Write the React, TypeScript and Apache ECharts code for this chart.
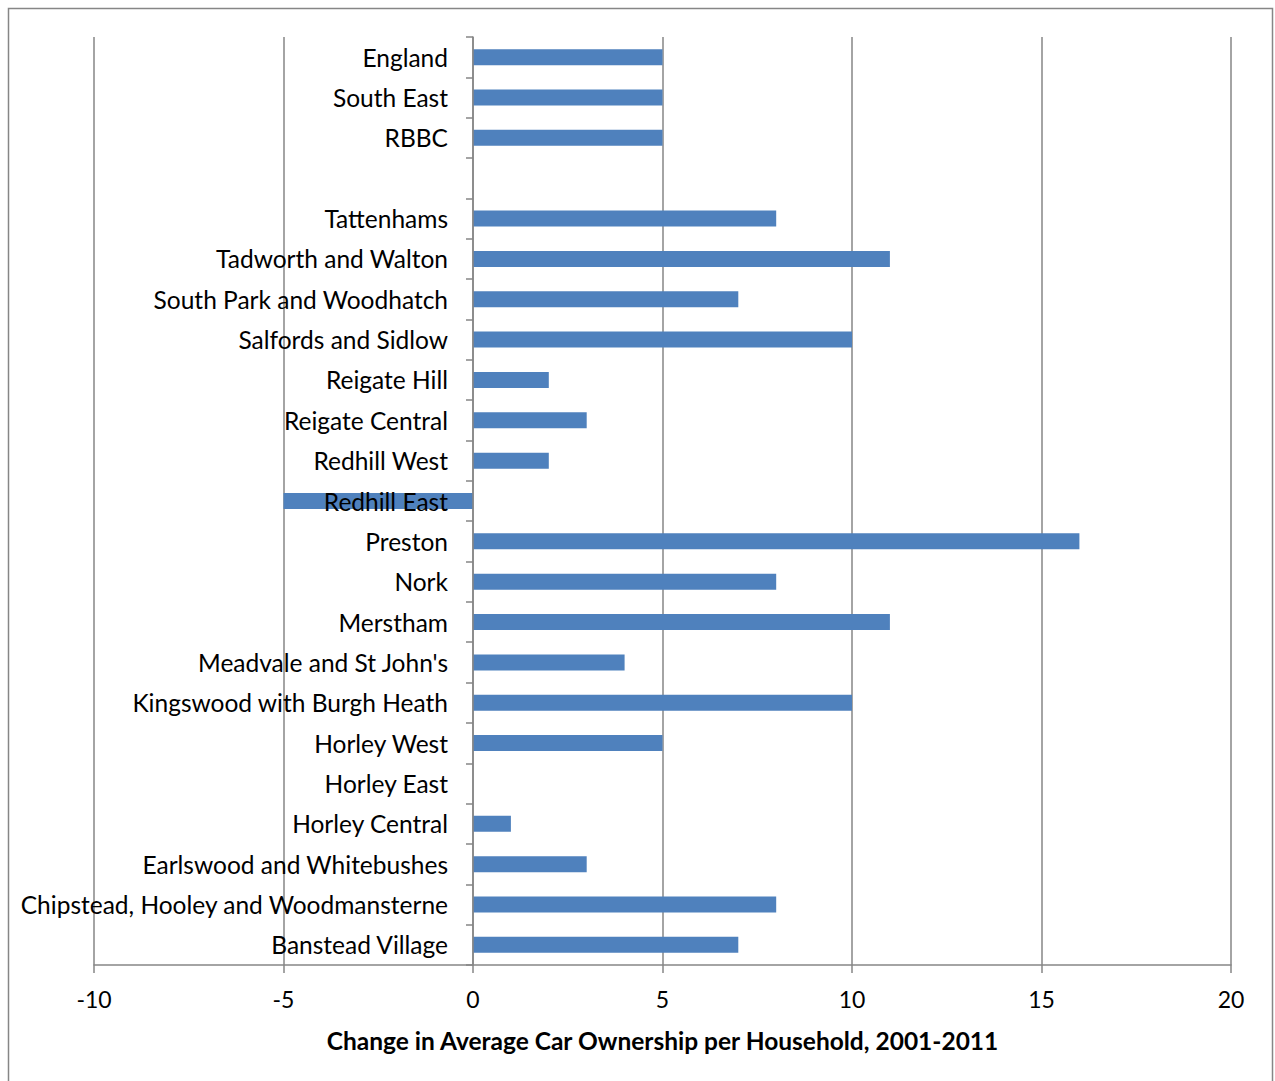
import React, { useEffect, useRef } from "react";
import * as echarts from "echarts";

const categories: string[] = [
  "Banstead Village",
  "Chipstead, Hooley and Woodmansterne",
  "Earlswood and Whitebushes",
  "Horley Central",
  "Horley East",
  "Horley West",
  "Kingswood with Burgh Heath",
  "Meadvale and St John's",
  "Merstham",
  "Nork",
  "Preston",
  "Redhill East",
  "Redhill West",
  "Reigate Central",
  "Reigate Hill",
  "Salfords and Sidlow",
  "South Park and Woodhatch",
  "Tadworth and Walton",
  "Tattenhams",
  "",
  "RBBC",
  "South East",
  "England",
];

const values: (number | null)[] = [
  7, 8, 3, 1, 0, 5, 10, 4, 11, 8, 16, -5, 2, 3, 2, 10, 7, 11, 8, null, 5, 5, 5,
];

const xMin = -10;
const xMax = 20;
const xStep = 5;

const FONT = "Lato, 'Open Sans', sans-serif";
const GRAY = "#868686";
const FS = 24.5;

export default function App() {
  const ref = useRef<HTMLDivElement>(null);
  useEffect(() => {
    if (!ref.current) return;
    const chart = echarts.init(ref.current, null, { renderer: "svg" });
    chart.setOption({
      animation: false,
      backgroundColor: "#ffffff",
      textStyle: { fontFamily: FONT },
      grid: {
        left: 94,
        right: 44,
        top: 37,
        bottom: 116,
        containLabel: false,
        outerBoundsMode: "none",
      },
      graphic: [
        {
          type: "rect",
          shape: { x: 8.5, y: 8.5, width: 1264, height: 1090 },
          style: { fill: "none", stroke: GRAY, lineWidth: 1.5 },
          silent: true,
        },
      ],
      xAxis: {
        type: "value",
        min: xMin,
        max: xMax,
        interval: xStep,
        axisLine: { show: true, onZero: false, lineStyle: { color: GRAY, width: 1.5 } },
        axisTick: { show: true, length: 8, lineStyle: { color: GRAY, width: 1.5 } },
        splitLine: { show: true, lineStyle: { color: GRAY, width: 1.5 } },
        axisLabel: { color: "#000", fontSize: 23, fontFamily: FONT, margin: 22 },
        name: "Change in Average Car Ownership per Household, 2001-2011",
        nameLocation: "middle",
        nameGap: 63,
        nameTextStyle: { color: "#000", fontSize: FS, fontWeight: "bold", fontFamily: FONT },
      },
      yAxis: {
        type: "category",
        data: categories,
        z: 5,
        axisLine: { show: true, onZero: true, lineStyle: { color: GRAY, width: 1.5 } },
        axisTick: { show: true, length: 7, lineStyle: { color: GRAY, width: 1.5 } },
        splitLine: { show: false },
        axisLabel: { color: "#000", fontSize: FS, fontFamily: FONT, margin: -354, interval: 0 },
      },
      series: [
        {
          type: "bar",
          data: values,
          barWidth: 16,
          itemStyle: { color: "#4F81BD" },
        },
      ],
    });
    return () => chart.dispose();
  }, []);
  return (
    <div
      ref={ref}
      style={{ position: "absolute", left: 0, top: 0, width: 1275, height: 1081 }}
    />
  );
}
